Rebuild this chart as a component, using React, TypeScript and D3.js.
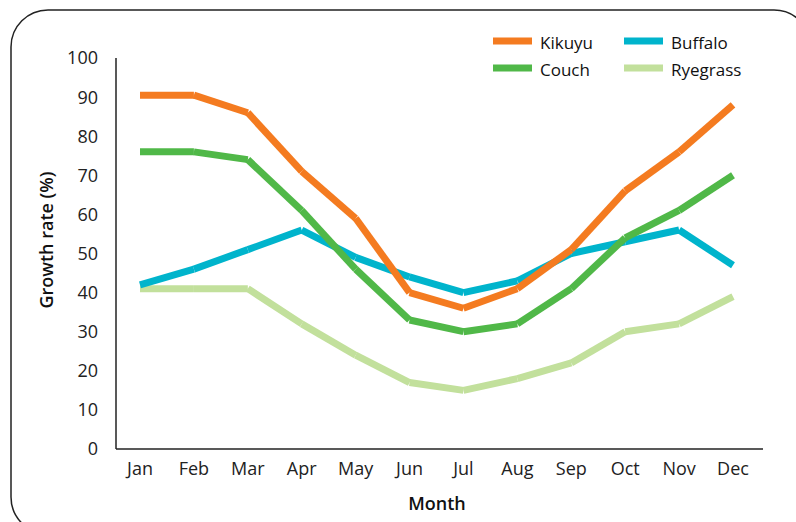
import React from 'react';
import * as d3 from 'd3';

const months = ['Jan', 'Feb', 'Mar', 'Apr', 'May', 'Jun', 'Jul', 'Aug', 'Sep', 'Oct', 'Nov', 'Dec'];
const kikuyu = [90.5, 90.5, 86, 71, 59, 40, 36, 41, 51, 66, 76, 88];
const couch = [76, 76, 74, 61, 46, 33, 30, 32, 41, 54, 61, 70];
const buffalo = [42, 46, 51, 56, 49, 44, 40, 43, 50, 53, 56, 47];
const ryegrass = [41, 41, 41, 32, 24, 17, 15, 18, 22, 30, 32, 39];
const yTicks = [0, 10, 20, 30, 40, 50, 60, 70, 80, 90, 100];

const series = [
    { name: 'Kikuyu', values: kikuyu, color: '#f47b20' },
    { name: 'Couch', values: couch, color: '#50b848' },
    { name: 'Buffalo', values: buffalo, color: '#00b4cc' },
    { name: 'Ryegrass', values: ryegrass, color: '#c2e09c' },
];

// draw order: light ones underneath
const drawOrder = ['Ryegrass', 'Buffalo', 'Couch', 'Kikuyu'];

const font = '"Open Sans", "Noto Sans", sans-serif';

const App = () => {
    const width = 796;
    const height = 522;
    const left = 116;
    const right = 763;
    const top = 58;
    const bottom = 449;

    const x = d3.scalePoint<string>().domain(months).range([140, 733]);
    const y = d3.scaleLinear().domain([0, 100]).range([bottom, top]);

    return (
        <svg width={width} height={height} style={{ position: 'absolute', left: 0, top: 0 }} fontFamily={font}>
            <rect x={11} y={10} width={800} height={524} rx={37} ry={37} fill="white" stroke="#222" strokeWidth={1.5} />

            {/* axes */}
            <line x1={left} y1={top} x2={left} y2={bottom} stroke="#222" strokeWidth={1.5} />
            <line x1={left} y1={bottom} x2={right} y2={bottom} stroke="#222" strokeWidth={1.5} />

            {yTicks.map(t => (
                <text key={t} x={98} y={y(t)} dy="0.36em" textAnchor="end" fontSize={18} fill="#222">{t}</text>
            ))}
            {months.map(m => (
                <text key={m} x={x(m)} y={475} textAnchor="middle" fontSize={18} fill="#222">{m}</text>
            ))}

            <text x={437} y={510} textAnchor="middle" fontSize={18} fontWeight={600} fill="#111">Month</text>
            <text transform={`translate(53, 240) rotate(-90)`} textAnchor="middle" fontSize={18} fontWeight={600} fill="#111">Growth rate (%)</text>

            {/* series, drawn segment by segment */}
            {drawOrder.map(n => {
                const s = series.find(d => d.name === n)!;
                return (
                    <g key={n}>
                        {d3.pairs(s.values.map((v, i) => [x(months[i])!, y(v)])).map(([a, b], i) => (
                            <line key={i} x1={a[0]} y1={a[1]} x2={b[0]} y2={b[1]} stroke={s.color} strokeWidth={7} strokeLinecap="butt" />
                        ))}
                    </g>
                );
            })}

            {/* legend: Kikuyu/Couch in first column, Buffalo/Ryegrass in second */}
            {series.map((s, i) => {
                const lx = i < 2 ? 493 : 624;
                const ly = i % 2 === 0 ? 41 : 68;
                return (
                    <g key={s.name}>
                        <line x1={lx} y1={ly} x2={lx + 39} y2={ly} stroke={s.color} strokeWidth={7} />
                        <text x={lx + 47} y={ly} dy="0.45em" fontSize={17} fill="#111">{s.name}</text>
                    </g>
                );
            })}
        </svg>
    );
};

export default App;
